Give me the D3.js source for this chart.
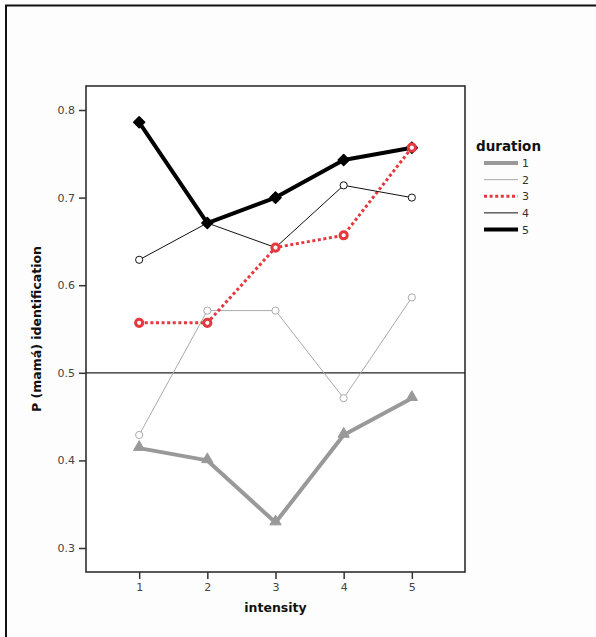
<!DOCTYPE html>
<html>
<head>
<meta charset="utf-8">
<script src="https://cdn.jsdelivr.net/npm/d3@7"></script>
<style>
  body { margin: 0; background: #fdfdfd; }
  svg { display: block; }
</style>
</head>
<body>
<script>
var intensity = [1, 2, 3, 4, 5];
var durations = ["1", "2", "3", "4", "5"];
var dur1 = [0.414, 0.400, 0.329, 0.429, 0.471];
var dur2 = [0.429, 0.571, 0.571, 0.471, 0.586];
var dur3 = [0.557, 0.557, 0.643, 0.657, 0.757];
var dur4 = [0.629, 0.671, 0.643, 0.714, 0.700];
var dur5 = [0.786, 0.671, 0.700, 0.743, 0.757];
var yTicks = [0.3, 0.4, 0.5, 0.6, 0.7, 0.8];

var styles = {
  "1": {color: "#999", width: 4, dash: null, marker: "triangle"},
  "2": {color: "#aaa", width: 1, dash: null, marker: "circle"},
  "3": {color: "#e5383f", width: 3, dash: "3,2.6", marker: "circle"},
  "4": {color: "#111", width: 1, dash: null, marker: "circle"},
  "5": {color: "#000", width: 4, dash: null, marker: "diamond"}
};

var series = [dur1, dur2, dur3, dur4, dur5].map(function(v, i) {
  return {key: durations[i], values: v.map(function(d, j) { return {x: intensity[j], y: d}; })};
});

var W = 596, H = 637;
var margin = {top: 86, right: 131, bottom: 65, left: 86},
    width = W - margin.left - margin.right,
    height = H - margin.top - margin.bottom;

var svg = d3.select("body").append("svg")
    .attr("width", W)
    .attr("height", H);

// outer frame (top and left edges visible)
svg.append("line").attr("x1", 5).attr("x2", W).attr("y1", 5.5).attr("y2", 5.5)
    .attr("stroke", "#111").attr("stroke-width", 2);
svg.append("line").attr("x1", 6).attr("x2", 6).attr("y1", 5).attr("y2", H)
    .attr("stroke", "#111").attr("stroke-width", 2);

var g = svg.append("g")
    .attr("transform", "translate(" + margin.left + "," + margin.top + ")");

var x = d3.scaleLinear().domain([0.22, 5.78]).range([0, width]);
var y = d3.scaleLinear().domain([0.2726, 0.8274]).range([height, 0]);

g.append("rect")
    .attr("width", width).attr("height", height)
    .attr("fill", "#fff").attr("stroke", "#222").attr("stroke-width", 1.5);

var xAxis = g.append("g")
    .attr("transform", "translate(0," + height + ")")
    .call(d3.axisBottom(x).tickValues(intensity).tickFormat(d3.format("d")).tickSize(7).tickPadding(4));
var yAxis = g.append("g")
    .call(d3.axisLeft(y).tickValues(yTicks).tickFormat(d3.format(".1f")).tickSize(7).tickPadding(4));
[xAxis, yAxis].forEach(function(a) {
  a.select(".domain").remove();
  a.selectAll("line").attr("stroke", "#333").attr("stroke-width", 1.5);
  a.selectAll("text").attr("fill", "#444").style("font-family", "DejaVu Sans, sans-serif").style("font-size", "11px");
});

// reference line at 0.5
g.append("line")
    .attr("x1", 0).attr("x2", width)
    .attr("y1", y(0.5)).attr("y2", y(0.5))
    .attr("stroke", "#222").attr("stroke-width", 1.3);

var line = d3.line().x(function(d) { return x(d.x); }).y(function(d) { return y(d.y); });

g.selectAll(".series")
    .data(series)
  .enter().append("path")
    .attr("class", "series")
    .attr("d", function(d) { return line(d.values); })
    .attr("fill", "none")
    .attr("stroke", function(d) { return styles[d.key].color; })
    .attr("stroke-width", function(d) { return styles[d.key].width; })
    .attr("stroke-dasharray", function(d) { return styles[d.key].dash; })
    .attr("stroke-linejoin", "round");

var markerOrder = ["1", "2", "4", "5", "3"];
markerOrder.forEach(function(k) {
  var s = series.filter(function(d) { return d.key === k; })[0];
  var st = styles[k];
  var mg = g.append("g");
  s.values.forEach(function(p) {
    var cx = x(p.x), cy = y(p.y);
    if (st.marker === "circle") {
      mg.append("circle").attr("cx", cx).attr("cy", cy)
          .attr("r", k === "3" ? 3.6 : 3.6)
          .attr("fill", "#fff")
          .attr("stroke", st.color)
          .attr("stroke-width", k === "3" ? 3 : 1);
    } else if (st.marker === "triangle") {
      mg.append("path")
          .attr("d", d3.symbol().type(d3.symbolTriangle).size(55)())
          .attr("transform", "translate(" + cx + "," + (cy - 1) + ")")
          .attr("fill", st.color).attr("stroke", st.color).attr("stroke-width", 1);
    } else {
      mg.append("path")
          .attr("d", "M0,-5.5L5.5,0L0,5.5L-5.5,0Z")
          .attr("transform", "translate(" + cx + "," + cy + ")")
          .attr("fill", "#000").attr("stroke", "#000").attr("stroke-width", 1.5)
          .attr("stroke-linejoin", "round");
    }
  });
});

// axis titles
svg.append("text")
    .attr("x", margin.left + x(3)).attr("y", 612)
    .attr("text-anchor", "middle")
    .style("font-family", "DejaVu Sans, sans-serif").style("font-weight", "bold").style("font-size", "12.5px")
    .attr("fill", "#111")
    .text("intensity");

svg.append("text")
    .attr("transform", "translate(41," + (margin.top + height / 2) + ") rotate(-90)")
    .attr("text-anchor", "middle")
    .style("font-family", "DejaVu Sans, sans-serif").style("font-weight", "bold").style("font-size", "12.5px")
    .attr("fill", "#111")
    .text("P (mamá) identification");

// legend
var leg = svg.append("g").attr("transform", "translate(476,0)");
leg.append("text")
    .attr("x", 0).attr("y", 151)
    .style("font-family", "DejaVu Sans, sans-serif").style("font-weight", "bold").style("font-size", "13.5px")
    .attr("fill", "#111")
    .text("duration");
var legY = d3.scalePoint().domain(durations).range([163, 229.5]);
durations.forEach(function(k) {
  var st = styles[k];
  leg.append("line")
      .attr("x1", 8).attr("x2", 42)
      .attr("y1", legY(k)).attr("y2", legY(k))
      .attr("stroke", st.color)
      .attr("stroke-width", st.width)
      .attr("stroke-dasharray", st.dash);
  leg.append("text")
      .attr("x", 46).attr("y", legY(k) + 4)
      .style("font-family", "DejaVu Sans, sans-serif").style("font-size", "11px")
      .attr("fill", "#333")
      .text(k);
});
</script>
</body>
</html>
